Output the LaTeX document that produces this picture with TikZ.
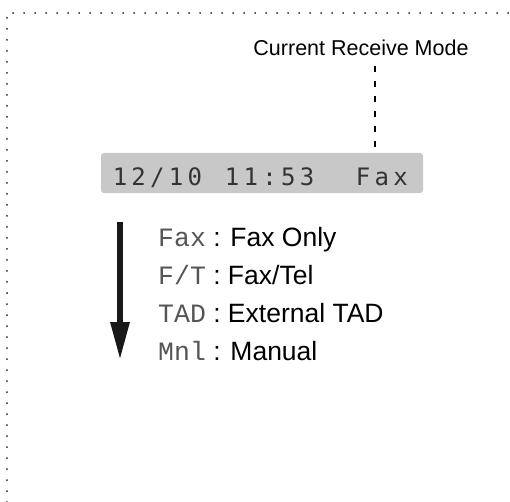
\documentclass[tikz,border=0pt]{standalone}
\usepackage{fontspec}
\setmainfont{Liberation Sans}
\newfontfamily\codefont{Liberation Mono}
\newfontfamily\lcdfont{DejaVu Sans Mono}
\usepackage{xcolor}
\usepackage{tikz}
\usetikzlibrary{
    positioning,
    arrows.meta
}
\definecolor{lcdgray}{HTML}{C8C8C8}
\definecolor{codegray}{HTML}{555555}

\begin{document}
\begin{tikzpicture}[
    x=1bp, y=-1bp,
    frame/.style={line width=2bp, line cap=round, dash pattern=on 0bp off 11bp, draw=black!85},
    lcdbox/.style={rectangle, fill=lcdgray, rounded corners=3bp, minimum width=322bp, minimum height=40bp, inner sep=0pt},
    lcdchar/.style={anchor=base, inner sep=0pt, font=\fontsize{24bp}{24bp}\lcdfont, text=black!80},
    modelabel/.style={anchor=base west, inner sep=0pt, font=\fontsize{26.5bp}{26.5bp}\selectfont},
    leader/.style={line width=2bp, dash pattern=on 6bp off 9bp},
    scrollarrow/.style={-{Triangle[length=38bp, width=18bp]}, line width=6bp, draw=black!90}
]
\useasboundingbox (0,0) rectangle (510,502);

\coordinate (corner) at (7,13);
\draw[frame] (corner |- 0,502) -- (corner) -- (510,13);

\node[anchor=base, inner sep=0pt, font=\fontsize{21.5bp}{21.5bp}\selectfont] (current) at (361,56) {Current Receive Mode};

\node[lcdbox] (lcd) at (262,173) {};
\foreach \ch [count=\i from 0] in {1,2,/,1,0}
    \node[lcdchar] (date-\i) at (120+\i*18.7,186) {\ch};
\foreach \ch [count=\i from 6] in {1,1,:,5,3}
    \node[lcdchar] (time-\i) at (120+\i*18.7,186) {\ch};
\foreach \ch [count=\i from 13] in {F,a,x}
    \node[lcdchar] (mode-\i) at (120+\i*18.7,186) {\ch};

\coordinate (lead-top) at (375,66);
\draw[leader] (lead-top) -- (lead-top |- lcd.north);

\node[modelabel] (fax) at (158,246) {{\codefont\color{codegray}Fax} : Fax Only};
\node[modelabel] (ft) at (158,284) {{\codefont\color{codegray}F/T} : Fax/Tel};
\node[modelabel] (tad) at (158,322) {{\codefont\color{codegray}TAD} : External TAD};
\node[modelabel] (mnl) at (158,360) {{\codefont\color{codegray}Mnl} : Manual};

\coordinate (scroll-top) at (120,222);
\coordinate (scroll-tip) at (120,360);
\draw[scrollarrow] (scroll-top) -- (scroll-tip);
\end{tikzpicture}
\end{document}
